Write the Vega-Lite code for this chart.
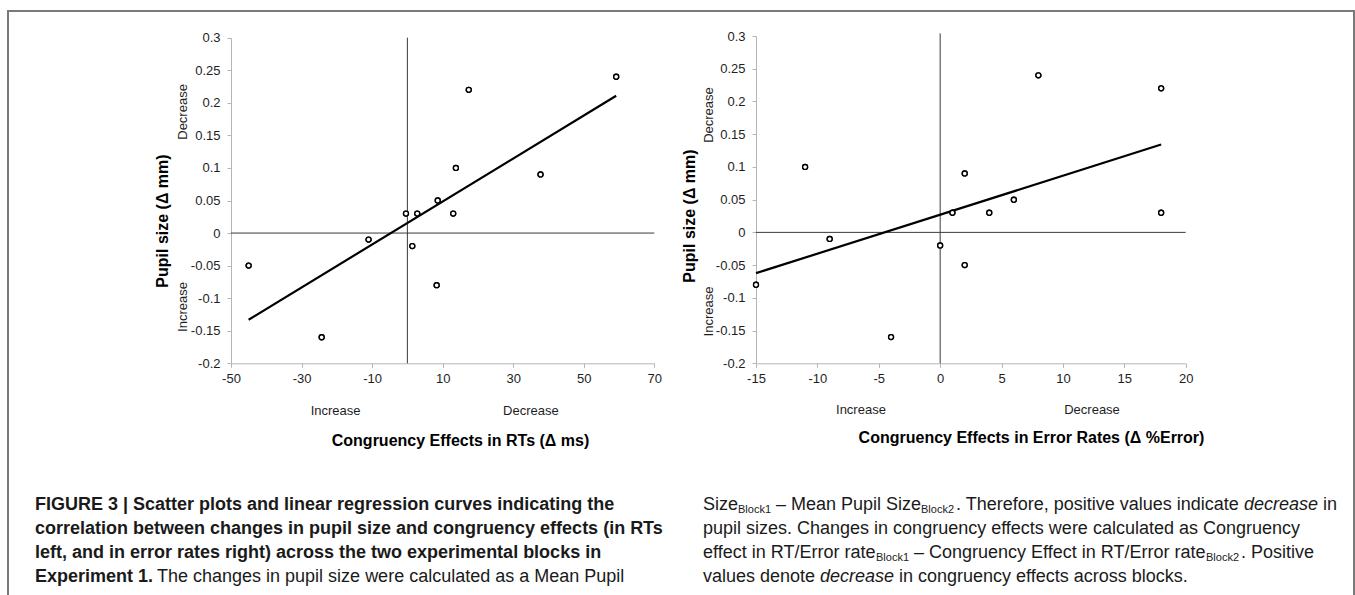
{
  "$schema": "https://vega.github.io/schema/vega-lite/v6.json",
  "width": 1355,
  "height": 595,
  "autosize": {"type": "fit", "contains": "padding"},
  "padding": {"left": 8, "top": 11, "right": 1, "bottom": -4},
  "background": "white",
  "config": {
    "view": {"stroke": "#7a7a7a", "strokeWidth": 2},
    "axis": {
      "labelFont": "Liberation Sans", "labelFontSize": 13, "labelColor": "#1e1e1e",
      "domainColor": "#b5b5b5", "tickColor": "#b5b5b5", "tickSize": 4, "grid": false,
      "titleFont": "Liberation Sans", "titleFontSize": 16, "titleFontWeight": "bold", "titleColor": "#000",
      "labelFlush": false, "labelOverlap": false
    },
    "axisX": {"labelPadding": 5},
    "axisY": {"labelPadding": 7}
  },
  "resolve": {"scale": {"x": "independent", "y": "independent"}},
  "layer": [
    {
      "data": {"values": [
        {"ce": -45, "pupil": -0.05}, {"ce": -24.3, "pupil": -0.16}, {"ce": -11, "pupil": -0.01},
        {"ce": -0.4, "pupil": 0.03}, {"ce": 1.4, "pupil": -0.02}, {"ce": 2.8, "pupil": 0.03},
        {"ce": 8.6, "pupil": 0.05}, {"ce": 8.3, "pupil": -0.08}, {"ce": 13, "pupil": 0.03},
        {"ce": 13.75, "pupil": 0.1}, {"ce": 17.4, "pupil": 0.22}, {"ce": 37.75, "pupil": 0.09},
        {"ce": 59.2, "pupil": 0.24}
      ]},
      "layer": [
        {
          "mark": {"type": "point", "shape": "circle", "size": 24, "filled": false, "fill": "#ffffff", "fillOpacity": 1, "stroke": "#000", "strokeWidth": 1.4, "opacity": 1},
          "encoding": {
            "x": {"field": "ce", "type": "quantitative",
              "scale": {"domain": [-50, 70], "range": [223, 646.3], "nice": false, "zero": false},
              "axis": {"orient": "bottom", "offset": -235.7, "values": [-50, -30, -10, 10, 30, 50, 70], "labelExpr": "'' + datum.value",
                "title": "Congruency Effects in RTs (Δ ms)", "titleX": 452, "titleY": 76.7, "titleBaseline": "middle"}},
            "y": {"field": "pupil", "type": "quantitative",
              "scale": {"domain": [-0.2, 0.3], "range": [352.3, 26.7], "nice": false, "zero": false},
              "axis": {"orient": "left", "offset": -223, "values": [-0.2, -0.15, -0.1, -0.05, 0, 0.05, 0.1, 0.15, 0.2, 0.25, 0.3], "labelExpr": "'' + datum.value",
                "title": "Pupil size (Δ mm)", "titleX": -68.2, "titleY": 209.5, "titleBaseline": "middle"}}
          }
        },
        {
          "data": {"values": [{}]},
          "mark": {"type": "rule", "color": "#3a3a3a", "strokeWidth": 1},
          "encoding": {"x": {"datum": 0}, "y": {"datum": -0.2}, "y2": {"datum": 0.3}}
        },
        {
          "data": {"values": [{}]},
          "mark": {"type": "rule", "color": "#3a3a3a", "strokeWidth": 1},
          "encoding": {"y": {"datum": 0}, "x": {"datum": -50}, "x2": {"datum": 70}}
        },
        {
          "transform": [{"regression": "pupil", "on": "ce"}],
          "mark": {"type": "line", "color": "#000", "strokeWidth": 2.2},
          "encoding": {"x": {"field": "ce", "type": "quantitative"}, "y": {"field": "pupil", "type": "quantitative"}}
        },
        {
          "mark": {"type": "point", "shape": "circle", "size": 24, "filled": false, "fill": "#ffffff", "fillOpacity": 1, "stroke": "#000", "strokeWidth": 1.4, "opacity": 1},
          "encoding": {"x": {"field": "ce", "type": "quantitative"}, "y": {"field": "pupil", "type": "quantitative"}}
        },
        {
          "data": {"values": [{}]},
          "mark": {"type": "text", "text": "Decrease", "angle": 270, "font": "Liberation Sans", "fontSize": 13, "color": "#1e1e1e"},
          "encoding": {"x": {"datum": -63.6}, "y": {"datum": 0.186}}
        },
        {
          "data": {"values": [{}]},
          "mark": {"type": "text", "text": "Increase", "angle": 270, "font": "Liberation Sans", "fontSize": 13, "color": "#1e1e1e"},
          "encoding": {"x": {"datum": -63.6}, "y": {"datum": -0.1135}}
        },
        {
          "data": {"values": [{}]},
          "mark": {"type": "text", "text": "Increase", "font": "Liberation Sans", "fontSize": 13, "color": "#1e1e1e"},
          "encoding": {"x": {"datum": -20.35}, "y": {"datum": -0.273}}
        },
        {
          "data": {"values": [{}]},
          "mark": {"type": "text", "text": "Decrease", "font": "Liberation Sans", "fontSize": 13, "color": "#1e1e1e"},
          "encoding": {"x": {"datum": 35.0}, "y": {"datum": -0.274}}
        }
      ]
    },
    {
      "data": {"values": [
        {"ce": -15, "pupil": -0.08}, {"ce": -11, "pupil": 0.1}, {"ce": -9, "pupil": -0.01},
        {"ce": -4, "pupil": -0.16}, {"ce": 0, "pupil": -0.02}, {"ce": 1, "pupil": 0.03},
        {"ce": 2, "pupil": 0.09}, {"ce": 2, "pupil": -0.05}, {"ce": 4, "pupil": 0.03},
        {"ce": 6, "pupil": 0.05}, {"ce": 8, "pupil": 0.24}, {"ce": 18, "pupil": 0.22},
        {"ce": 18, "pupil": 0.03}
      ]},
      "layer": [
        {
          "mark": {"type": "point", "shape": "circle", "size": 24, "filled": false, "fill": "#ffffff", "fillOpacity": 1, "stroke": "#000", "strokeWidth": 1.4, "opacity": 1},
          "encoding": {
            "x": {"field": "ce", "type": "quantitative",
              "scale": {"domain": [-15, 20], "range": [748, 1177.7], "nice": false, "zero": false},
              "axis": {"orient": "bottom", "offset": -235.7, "values": [-15, -10, -5, 0, 5, 10, 15, 20], "labelExpr": "'' + datum.value",
                "title": "Congruency Effects in Error Rates (Δ %Error)", "titleX": 1023, "titleY": 73.7, "titleBaseline": "middle"}},
            "y": {"field": "pupil", "type": "quantitative",
              "scale": {"domain": [-0.2, 0.3], "range": [352.3, 25], "nice": false, "zero": false},
              "axis": {"orient": "left", "offset": -748, "values": [-0.2, -0.15, -0.1, -0.05, 0, 0.05, 0.1, 0.15, 0.2, 0.25, 0.3], "labelExpr": "'' + datum.value",
                "title": "Pupil size (Δ mm)", "titleX": -66.5, "titleY": 204.5, "titleBaseline": "middle"}}
          }
        },
        {
          "data": {"values": [{}]},
          "mark": {"type": "rule", "color": "#3a3a3a", "strokeWidth": 1},
          "encoding": {"x": {"datum": 0}, "y": {"datum": -0.2}, "y2": {"datum": 0.304}}
        },
        {
          "data": {"values": [{}]},
          "mark": {"type": "rule", "color": "#3a3a3a", "strokeWidth": 1},
          "encoding": {"y": {"datum": 0}, "x": {"datum": -15}, "x2": {"datum": 20}}
        },
        {
          "transform": [{"regression": "pupil", "on": "ce"}],
          "mark": {"type": "line", "color": "#000", "strokeWidth": 2.2},
          "encoding": {"x": {"field": "ce", "type": "quantitative"}, "y": {"field": "pupil", "type": "quantitative"}}
        },
        {
          "mark": {"type": "point", "shape": "circle", "size": 24, "filled": false, "fill": "#ffffff", "fillOpacity": 1, "stroke": "#000", "strokeWidth": 1.4, "opacity": 1},
          "encoding": {"x": {"field": "ce", "type": "quantitative"}, "y": {"field": "pupil", "type": "quantitative"}}
        },
        {
          "data": {"values": [{}]},
          "mark": {"type": "text", "text": "Decrease", "angle": 270, "font": "Liberation Sans", "fontSize": 13, "color": "#1e1e1e"},
          "encoding": {"x": {"datum": -18.83}, "y": {"datum": 0.1793}}
        },
        {
          "data": {"values": [{}]},
          "mark": {"type": "text", "text": "Increase", "angle": 270, "font": "Liberation Sans", "fontSize": 13, "color": "#1e1e1e"},
          "encoding": {"x": {"datum": -18.83}, "y": {"datum": -0.1209}}
        },
        {
          "data": {"values": [{}]},
          "mark": {"type": "text", "text": "Increase", "font": "Liberation Sans", "fontSize": 13, "color": "#1e1e1e"},
          "encoding": {"x": {"datum": -6.45}, "y": {"datum": -0.2713}}
        },
        {
          "data": {"values": [{}]},
          "mark": {"type": "text", "text": "Decrease", "font": "Liberation Sans", "fontSize": 13, "color": "#1e1e1e"},
          "encoding": {"x": {"datum": 12.37}, "y": {"datum": -0.2713}}
        }
      ]
    },
    {
      "data": {"values": [
        {"seg": "bold", "col": "left", "line": 1, "text": "FIGURE 3 | Scatter plots and linear regression curves indicating the"},
        {"seg": "bold", "col": "left", "line": 2, "text": "correlation between changes in pupil size and congruency effects (in RTs"},
        {"seg": "bold", "col": "left", "line": 3, "text": "left, and in error rates right) across the two experimental blocks in"},
        {"seg": "bold", "col": "left", "line": 4, "text": "Experiment 1."},
        {"seg": "p0", "col": "left", "line": 4, "text": "The changes in pupil size were calculated as a Mean Pupil"},
        {"seg": "a0", "col": "right", "line": 1, "text": "Size"},
        {"seg": "a0", "col": "right", "line": 2, "text": "pupil sizes. Changes in congruency effects were calculated as Congruency"},
        {"seg": "a0", "col": "right", "line": 3, "text": "effect in RT/Error rate"},
        {"seg": "a0", "col": "right", "line": 4, "text": "values denote"},
        {"seg": "s1", "col": "right", "line": 1, "text": "Block1"},
        {"seg": "a1", "col": "right", "line": 1, "text": "– Mean Pupil Size"},
        {"seg": "s2", "col": "right", "line": 1, "text": "Block2"},
        {"seg": "a2", "col": "right", "line": 1, "text": ". Therefore, positive values indicate"},
        {"seg": "i1", "col": "right", "line": 1, "text": "decrease"},
        {"seg": "a3", "col": "right", "line": 1, "text": "in"},
        {"seg": "s3", "col": "right", "line": 3, "text": "Block1"},
        {"seg": "a4", "col": "right", "line": 3, "text": "– Congruency Effect in RT/Error rate"},
        {"seg": "s4", "col": "right", "line": 3, "text": "Block2"},
        {"seg": "a5", "col": "right", "line": 3, "text": ". Positive"},
        {"seg": "i2", "col": "right", "line": 4, "text": "decrease"},
        {"seg": "a6", "col": "right", "line": 4, "text": "in congruency effects across blocks."}
      ]},
      "encoding": {
        "x": {"field": "col", "type": "nominal", "scale": {"type": "point", "domain": ["left", "right"], "range": [27, 695], "padding": 0}, "axis": null},
        "y": {"field": "line", "type": "ordinal", "scale": {"type": "point", "domain": [1, 2, 3, 4], "range": [494, 566], "padding": 0}, "axis": null},
        "text": {"field": "text"}
      },
      "layer": [
        {"transform": [{"filter": "datum.seg == 'bold'"}], "mark": {"type": "text", "align": "left", "baseline": "middle", "font": "Liberation Sans", "fontWeight": "bold", "fontSize": 18, "color": "#1a1a1a"}},
        {"transform": [{"filter": "datum.seg == 'p0'"}], "mark": {"type": "text", "align": "left", "baseline": "middle", "font": "Liberation Sans", "fontSize": 18, "color": "#1a1a1a", "dx": 122}},
        {"transform": [{"filter": "datum.seg == 'a0'"}], "mark": {"type": "text", "align": "left", "baseline": "middle", "font": "Liberation Sans", "fontSize": 18, "color": "#1a1a1a"}},
        {"transform": [{"filter": "datum.seg == 'a1'"}], "mark": {"type": "text", "align": "left", "baseline": "middle", "font": "Liberation Sans", "fontSize": 18, "color": "#1a1a1a", "dx": 73}},
        {"transform": [{"filter": "datum.seg == 'a2'"}], "mark": {"type": "text", "align": "left", "baseline": "middle", "font": "Liberation Sans", "fontSize": 18, "color": "#1a1a1a", "dx": 253}},
        {"transform": [{"filter": "datum.seg == 'a3'"}], "mark": {"type": "text", "align": "left", "baseline": "middle", "font": "Liberation Sans", "fontSize": 18, "color": "#1a1a1a", "dx": 620}},
        {"transform": [{"filter": "datum.seg == 'a4'"}], "mark": {"type": "text", "align": "left", "baseline": "middle", "font": "Liberation Sans", "fontSize": 18, "color": "#1a1a1a", "dx": 211}},
        {"transform": [{"filter": "datum.seg == 'a5'"}], "mark": {"type": "text", "align": "left", "baseline": "middle", "font": "Liberation Sans", "fontSize": 18, "color": "#1a1a1a", "dx": 538}},
        {"transform": [{"filter": "datum.seg == 'a6'"}], "mark": {"type": "text", "align": "left", "baseline": "middle", "font": "Liberation Sans", "fontSize": 18, "color": "#1a1a1a", "dx": 196}},
        {"transform": [{"filter": "datum.seg == 'i1'"}], "mark": {"type": "text", "align": "left", "baseline": "middle", "font": "Liberation Sans", "fontStyle": "italic", "fontSize": 18, "color": "#1a1a1a", "dx": 541}},
        {"transform": [{"filter": "datum.seg == 'i2'"}], "mark": {"type": "text", "align": "left", "baseline": "middle", "font": "Liberation Sans", "fontStyle": "italic", "fontSize": 18, "color": "#1a1a1a", "dx": 117}},
        {"transform": [{"filter": "datum.seg == 's1'"}], "mark": {"type": "text", "align": "left", "baseline": "middle", "font": "Liberation Sans", "fontSize": 11, "color": "#1a1a1a", "dx": 35, "dy": 5}},
        {"transform": [{"filter": "datum.seg == 's2'"}], "mark": {"type": "text", "align": "left", "baseline": "middle", "font": "Liberation Sans", "fontSize": 11, "color": "#1a1a1a", "dx": 218, "dy": 5}},
        {"transform": [{"filter": "datum.seg == 's3'"}], "mark": {"type": "text", "align": "left", "baseline": "middle", "font": "Liberation Sans", "fontSize": 11, "color": "#1a1a1a", "dx": 173, "dy": 5}},
        {"transform": [{"filter": "datum.seg == 's4'"}], "mark": {"type": "text", "align": "left", "baseline": "middle", "font": "Liberation Sans", "fontSize": 11, "color": "#1a1a1a", "dx": 503, "dy": 5}}
      ]
    }
  ]
}
